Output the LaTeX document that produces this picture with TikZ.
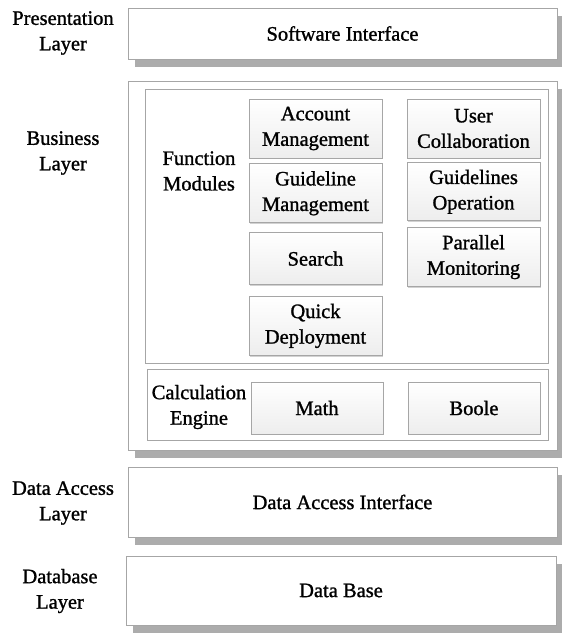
\documentclass[tikz,border=0pt]{standalone}
\usepackage{fontspec}
\setmainfont{Liberation Serif}[BoldFont=Liberation Serif, BoldFeatures={FakeBold=1.2}]
\usetikzlibrary{positioning}
\usetikzlibrary{shadows}

\begin{document}
\begin{tikzpicture}[x=1pt, y=-1pt,
    every node/.style={font=\fontsize{20.5}{25.5}\selectfont\bfseries, align=center, inner sep=0pt},
    layerbox/.style={rectangle, draw=gray!70, line width=0.8pt, fill=white, minimum width=429pt,
        drop shadow={shadow xshift=7pt, shadow yshift=-8pt, fill=gray!65, opacity=1}},
    groupbox/.style={rectangle, draw=gray!70, line width=0.8pt, fill=white},
    modbox/.style={rectangle, draw=gray!70, line width=0.8pt, top color=white, bottom color=gray!14,
        minimum width=133pt, minimum height=59pt,
        drop shadow={shadow xshift=1.2pt, shadow yshift=-1.2pt, fill=gray!35, opacity=1}}]
    \useasboundingbox (0,0) rectangle (562,637);

    % layers
    \node (pres) [layerbox, minimum height=51pt] at (342.5,33.5) {Software Interface};
    \node (bus) [layerbox, minimum height=369pt] at (342.5,265.5) {};
    \node (dai) [layerbox, minimum height=70pt] at (342.5,502) {Data Access Interface};
    \node (db) [layerbox, minimum height=69pt, minimum width=430pt] at (341,590.5) {Data Base};

    \node (preslabel) at (63,33) {Presentation\\Layer};
    \node (buslabel) at (63,153) {Business\\Layer};
    \node (dalabel) at (63,503) {Data Access\\Layer};
    \node (dblabel) at (60,591) {Database\\Layer};

    % business layer groups
    \node (func) [groupbox, minimum width=403pt, minimum height=274pt] at (346.5,226) {};
    \node (calc) [groupbox, minimum width=401pt, minimum height=71pt] at (347.5,404.5) {};

    \node (funclabel) at (199,171) {Function\\Modules};
    \node (calclabel) at (199,407) {Calculation\\Engine};

    \node (acc) [modbox] at (315.5,128.5) {Account\\Management};
    \node (guide) [modbox, below=5pt of acc] {Guideline\\Management};
    \node (search) [modbox, minimum height=52pt, below=9pt of guide] {Search};
    \node (quick) [modbox, below=11pt of search] {Quick\\Deployment};

    \node (user) [modbox] at (473.5,128.5) {User\\Collaboration};
    \node (guideop) [modbox, minimum height=58pt, below=4pt of user] {Guidelines\\Operation};
    \node (parallel) [modbox, below=6pt of guideop] {Parallel\\Monitoring};

    \node (math) [modbox, minimum width=132pt, minimum height=52pt] at (317,408) {Math};
    \node (boole) [modbox, minimum width=132pt, minimum height=52pt] at (474,408) {Boole};
\end{tikzpicture}
\end{document}
